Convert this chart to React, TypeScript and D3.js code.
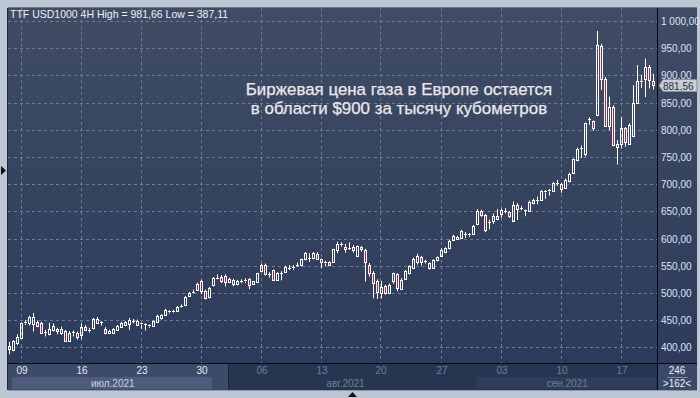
import React from "react";
import * as d3 from "d3";

const opens = [397,395,407,417,445,444,443,446,444,429,425,432,434,427,430,412,427,427,423,438,431,435,452,446,434,426,427,432,438,441,442,449,449,443,443,440,440,447,453,460,465,466,467,475,478,494,501,506,521,504,492,514,527,530,531,520,524,516,521,522,525,517,520,540,551,535,542,524,536,539,546,545,551,551,562,565,564,571,562,556,557,557,579,589,585,583,585,567,585,579,551,537,522,500,512,500,521,534,508,526,536,546,556,566,558,555,546,561,567,576,583,598,599,601,609,607,608,627,650,643,630,632,636,653,650,648,633,662,657,652,651,665,670,670,686,688,687,702,700,693,705,721,744,766,756,819,816,827,954,893,807,842,774,774,803,774,789,849,888,894,915,890];
const highs = [410,413,424,445,450,458,463,449,447,432,445,444,436,438,432,430,431,429,444,441,436,454,456,448,437,432,435,441,447,448,454,452,451,445,444,442,449,460,461,471,468,469,476,479,494,502,506,519,524,506,511,529,534,533,534,528,526,524,525,527,527,522,537,554,554,538,543,538,540,550,551,551,556,563,575,573,575,575,563,559,558,581,594,593,590,593,588,587,586,581,555,540,525,522,515,517,537,536,527,542,551,565,572,568,561,556,562,567,582,584,598,607,605,616,612,610,625,654,653,645,635,646,654,655,656,650,668,665,660,653,670,673,677,689,689,691,704,708,702,710,721,747,767,771,813,823,817,981.66,958,897,861,845,781,823,805,812,882,919,901,931,919,903];
const lows = [387.11,393,404,415,441,440,429,437,425,420,422,429,424,423,411,410,420,414,415,430,427,433,444,440,424,425,426,431,437,440,432,444,440,434,431,436,439,446,451,458,462,463,466,474,477,493,499,505,498,488,490,512,525,518,512,519,512,514,518,518,507,516,518,539,532,528,522,522,523,537,542,542,548,549,560,557,562,561,546,549,551,556,573,585,574,579,574,566,576,521,530,490,489,490,497,498,517,503,506,524,534,545,552,550,554,543,544,558,566,573,580,596,597,600,601,603,607,625,640,612,617,627,635,638,646,638,633,634,652,641,650,663,663,669,673,679,686,697,684,692,703,720,742,748,751,809,798,826,873,807,799,770,736,766,769,774,788,848,877,860,876,874];
const closes = [402,411,419,444,446,455,456,440,427,429,433,440,430,433,412,427,428,419,438,432,431,452,445,447,427,430,433,439,444,447,451,448,441,444,442,441,448,458,459,469,466,465,474,476,492,500,502,517,503,491,509,528,528,522,520,526,517,522,522,524,515,521,536,551,535,534,523,537,537,548,546,548,552,562,574,565,573,563,556,555,552,580,590,590,580,582,579,586,580,557,537,519,501,510,500,515,536,509,524,540,549,563,567,556,558,546,560,566,579,582,595,605,603,613,609,608,623,650,644,616,630,642,642,646,650,641,662,654,657,652,667,670,671,687,687,689,702,703,691,707,719,746,765,767,812,820,803,956,893,807,841,772,769,803,777,809,849,889,890,916,892,881.56];

const priceTicks = [400,450,500,550,600,650,700,750,800,850,900,950,1000];
const priceLabels = ["400,00","450,00","500,00","550,00","600,00","650,00","700,00","750,00","800,00","850,00","900,00","950,00","1 000,00"];
const dayTickIdx = [3,18,33,48,63,78,93,108,123,138,153];
const dayLabels = ["09","16","23","30","06","13","20","27","03","10","17"];
const monthLabels = ["июл.2021","авг.2021","сен.2021"];
const monthStartIdx = [-1,51,117];
const monthEndIdx = [51,117,162];
const titleText = "TTF USD1000 4H High = 981,66 Low = 387,11";
const noteLines = ["Биржевая цена газа в Европе остается","в области $900 за тысячу кубометров"];
const lastLabel = "881,56";
const countTop = "246";
const countBottom = ">162<";

export default function App() {
  const W = 700, H = 398;
  const pL = 8, pR = 657, pT = 8, pB = 363, axB = 390, outR = 697;
  const x = d3.scaleLinear().domain([0, 161]).range([9.5, 653.5]);
  const y = d3.scaleLinear().domain([400, 1000]).range([347.3, 21]);
  const font = "'Liberation Sans', Arial, sans-serif";
  const red = "#d3143a";
  const last = closes[closes.length - 1];
  const ly = Math.round(y(last));
  const boundaryX = 228;

  return (
    <div style={{ position: "fixed", left: 0, top: 0, width: W, height: H }}>
      <svg width={W} height={H} style={{ display: "block" }}>
        <defs>
          <linearGradient id="bg" x1="0" y1="0" x2="0" y2="1">
            <stop offset="0" stopColor="#404c64" />
            <stop offset="1" stopColor="#2b3a5a" />
          </linearGradient>
        </defs>
        <rect x={0} y={0} width={W} height={H} fill="#bcc6d4" />
        <rect x={pL} y={pT} width={outR - pL} height={axB - pT} fill="url(#bg)" />
        <line x1={pL - 0.5} y1={pT} x2={pL - 0.5} y2={axB} stroke="#1c2436" />
        <line x1={pL} y1={pT - 0.5} x2={outR} y2={pT - 0.5} stroke="#6e7a8e" />
        {priceTicks.map((t) => (
          <line key={"h" + t} x1={pL} x2={pR} y1={Math.round(y(t)) + 0.5} y2={Math.round(y(t)) + 0.5}
            stroke="#6c7b98" strokeDasharray="3,3" />
        ))}
        {dayTickIdx.map((i) => (
          <line key={"v" + i} x1={Math.round(x(i)) - 0.5} x2={Math.round(x(i)) - 0.5} y1={pT} y2={pB}
            stroke="#6c7b98" strokeDasharray="3,3" />
        ))}
        {noteLines.map((s, k) => (
          <text key={"n" + k} x={399} y={95 + k * 19} textAnchor="middle" fill="#e9e9ec"
            fontFamily={font} fontSize={16.9} stroke="#e9e9ec" strokeWidth={0.25}>{s}</text>
        ))}
        {closes.map((c, i) => {
          const o = opens[i];
          const cx = x(i);
          const top = y(Math.max(o, c));
          const bot = y(Math.min(o, c));
          const up = c >= o;
          const hTop = y(highs[i]);
          const lBot = y(lows[i]);
          const tPix = Math.round(top) + 0.5;
          const bPix = Math.max(Math.round(bot) + 0.5, tPix);
          return (
            <g key={"c" + i}>
              <line x1={cx} x2={cx} y1={hTop} y2={tPix} stroke="#fff" strokeWidth={1} />
              <line x1={cx} x2={cx} y1={bPix} y2={lBot} stroke="#fff" strokeWidth={1} />
              {bPix - tPix < 1.5 ? (
                <line x1={cx - 1.5} x2={cx + 1.5} y1={tPix} y2={tPix} stroke="#fff" />
              ) : (
                <rect x={cx - 1} y={tPix} width={2} height={bPix - tPix}
                  fill={up ? "none" : red} stroke="#fff" strokeWidth={1} />
              )}
            </g>
          );
        })}
        <text x={10} y={18} fill="#eef1f6" fontFamily={font} fontSize={10.5}>{titleText}</text>
        <line x1={pR + 0.5} x2={pR + 0.5} y1={pT} y2={axB} stroke="#05080f" />
        {priceTicks.map((t, k) => (
          <text key={"pl" + t} x={661} y={Math.round(y(t)) + 4} fill="#dbe4f4"
            fontFamily={font} fontSize={10}>{priceLabels[k]}</text>
        ))}
        <path d={`M${pR + 2},${ly + 0.5} L${pR + 6},${ly - 5.5} L${outR},${ly - 5.5} L${outR},${ly + 6.5} L${pR + 6},${ly + 6.5} Z`}
          fill="#c9cdd5" stroke="#8a8f99" />
        <text x={663} y={ly + 4.5} fill="#2a2f3a" fontFamily={font} fontSize={10}>{lastLabel}</text>
        <rect x={pL} y={pB} width={pR - pL} height={axB - pB} fill="#283550" />
        <rect x={pL} y={pB} width={boundaryX - pL} height={axB - pB} fill="#3d4b68" />
        <line x1={boundaryX + 0.5} x2={boundaryX + 0.5} y1={pB} y2={axB} stroke="#1b2540" />
        <rect x={12} y={377} width={200} height={12} fill="#4d5c7a" />
        <rect x={x(monthStartIdx[2]) - 2} y={377} width={pR - 1 - (x(monthStartIdx[2]) - 2)} height={12} fill="#2e3c59" />
        {dayTickIdx.map((i, k) => (
          <text key={"dl" + i} x={Math.round(x(i))} y={374} textAnchor="middle"
            fill={x(i) < boundaryX ? "#e4e9f2" : "#6f7e9a"} fontFamily={font} fontSize={10}>{dayLabels[k]}</text>
        ))}
        {monthLabels.map((m, k) => {
          const a = Math.max(x(monthStartIdx[k]), 12);
          const b = Math.min(x(monthEndIdx[k]), pR);
          return (
            <text key={"m" + k} x={(a + b) / 2} y={387} textAnchor="middle"
              fill={k === 0 ? "#c9d1df" : "#6f7e9a"} fontFamily={font} fontSize={10}>{m}</text>
          );
        })}
        <line x1={pL} x2={outR} y1={pB + 0.5} y2={pB + 0.5} stroke="#05080f" />
        <rect x={pR + 1} y={pB + 1} width={outR - pR - 1} height={axB - pB - 1} fill="#3b4968" />
        <text x={677} y={374} textAnchor="middle" fill="#eef1f6" fontFamily={font} fontSize={10}>{countTop}</text>
        <line x1={667} x2={688} y1={377.5} y2={377.5} stroke="#7f8aa0" />
        <text x={677} y={387} textAnchor="middle" fill="#eef1f6" fontFamily={font} fontSize={10}>{countBottom}</text>
        <line x1={pL} x2={outR} y1={axB + 0.5} y2={axB + 0.5} stroke="#8e99ab" />
        <path d="M1,166 L6,170.5 L1,175 Z" fill="#111" />
        <path d="M348,397 L352.5,392 L357,397 Z" fill="#111" />
      </svg>
    </div>
  );
}
